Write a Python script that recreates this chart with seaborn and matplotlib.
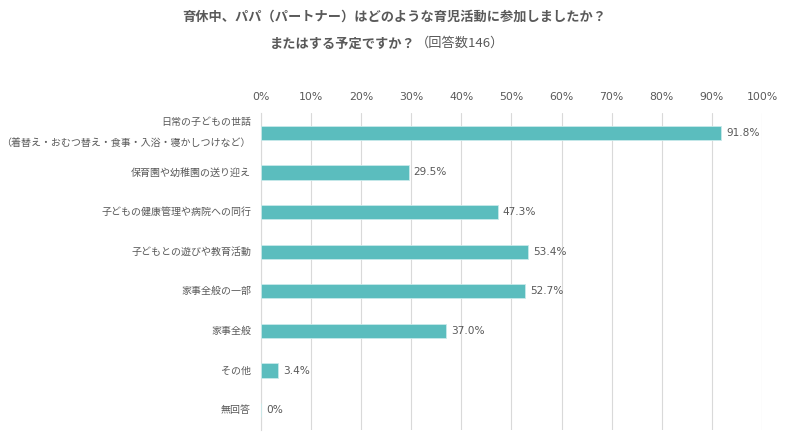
import matplotlib
matplotlib.use("Agg")
import matplotlib.pyplot as plt
import seaborn as sns
import pandas as pd

# data
categories = [
    "日常の子どもの世話\n（着替え・おむつ替え・食事・入浴・寝かしつけなど）",
    "保育園や幼稚園の送り迎え",
    "子どもの健康管理や病院への同行",
    "子どもとの遊びや教育活動",
    "家事全般の一部",
    "家事全般",
    "その他",
    "無回答",
]
values = [91.8, 29.5, 47.3, 53.4, 52.7, 37.0, 3.4, 0.0]
x_ticks = [0, 10, 20, 30, 40, 50, 60, 70, 80, 90, 100]

sns.set_style("white")
plt.rcParams['font.family'] = ['Noto Sans CJK JP', 'DejaVu Sans']
latin = ['DejaVu Sans', 'Noto Sans CJK JP']

text_color = "#595959"
bar_color = "#5BBDBE"

df = pd.DataFrame({"category": categories, "value": values})

fig = plt.figure(figsize=(7.88, 4.33), dpi=100)
ax = fig.add_axes([0.331, 0.007, 0.636, 0.732])

sns.barplot(data=df, x="value", y="category", orient="h", color=bar_color,
            saturation=1, width=0.36, edgecolor="#c8eaea", linewidth=0.6,
            ax=ax, zorder=3)

ax.set_xlim(0, 100)
ax.set_xticks(x_ticks)
ax.set_xticklabels([f"{t}%" for t in x_ticks], family=latin)
ax.xaxis.tick_top()
ax.tick_params(axis="x", length=0, pad=8, labelsize=7.8, colors=text_color)
ax.tick_params(axis="y", length=0, pad=7, labelsize=7.2, colors=text_color)
ax.set_xlabel("")
ax.set_ylabel("")
for lbl in ax.get_yticklabels():
    lbl.set_linespacing(2.4)
    lbl.set_va("center")

ax.grid(axis="x", color="#d9d9d9", linewidth=0.8, zorder=0)
for side in ["top", "right", "bottom"]:
    ax.spines[side].set_visible(False)
ax.spines["left"].set_color("#d9d9d9")
ax.spines["left"].set_linewidth(0.8)

# value labels
for i, v in enumerate(values):
    label = f"{v:.1f}%" if v else "0%"
    ax.text(v + 1.0, i, label, va="center", ha="left", fontsize=7.6,
            color=text_color, family=latin)

# title
fig.text(0.5, 0.962, "育休中、パパ（パートナー）はどのような育児活動に参加しましたか？",
         ha="center", va="center", fontsize=9.5, fontweight="bold", color=text_color)
fig.text(0.528, 0.90, "またはする予定ですか？", ha="right", va="center",
         fontsize=9.5, fontweight="bold", color=text_color)
fig.text(0.528, 0.90, "（回答数146）", ha="left", va="center",
         fontsize=9.5, color=text_color)

fig.savefig("out.png", dpi=100)
